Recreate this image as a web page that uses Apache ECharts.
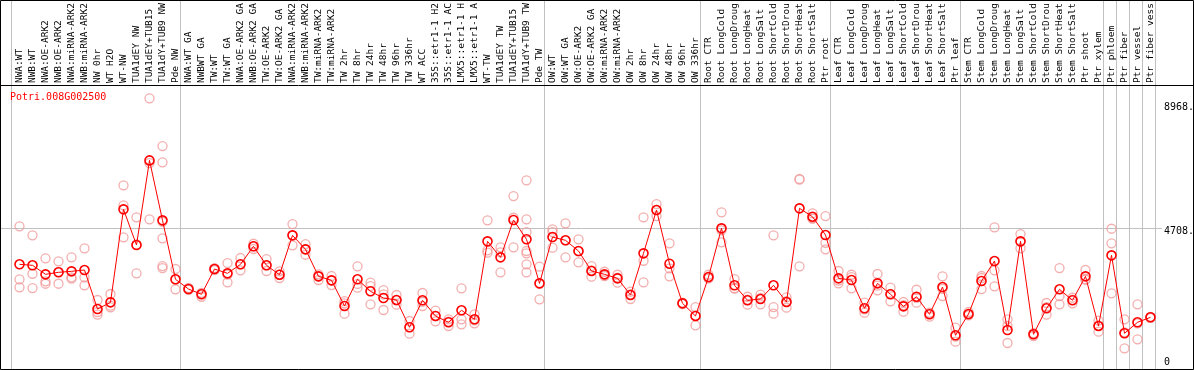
<!DOCTYPE html>
<html><head><meta charset="utf-8">
<script src="https://cdn.jsdelivr.net/npm/echarts@6/dist/echarts.min.js"></script>
<style>html,body{margin:0;padding:0;background:#fff}#c{width:1194px;height:370px}</style>
</head><body><div id="c"></div>
<script>
const geneName = 'Potri.008G002500';
const categories = [
 'NWA:WT','NWB:WT','NWA:OE-ARK2','NWB:OE-ARK2','NWA:miRNA-ARK2','NWB:miRNA-ARK2','NW 0hr','WT H2O','WT-NW','TUA1dEY NW','TUA1dEY+TUB15','TUA1dY+TUB9 NW','Pde NW',
 'NWA:WT GA','NWBWT GA','TW:WT','TW:WT GA','NWA:OE-ARK2 GA','NWB:OE-ARK2 GA','TW:OE-ARK2','TW:OE-ARK2 GA','NWA:miRNA-ARK2','NWB:miRNA-ARK2','TW:miRNA-ARK2','TW:miRNA-ARK2',
 'TW 2hr','TW 8hr','TW 24hr','TW 48hr','TW 96hr','TW 336hr','WT ACC','35S::etr1-1 H2','35S::etr1-1 AC','LMX5::etr1-1 H','LMX5::etr1-1 A','WT-TW','TUA1dEY TW','TUA1dEY+TUB15','TUA1dY+TUB9 TW','Pde TW',
 'OW:WT','OW:WT GA','OW:OE-ARK2','OW:OE-ARK2 GA','OW:miRNA-ARK2','OW:miRNA-ARK2','OW 2hr','OW 8hr','OW 24hr','OW 48hr','OW 96hr','OW 336hr',
 'Root CTR','Root LongCold','Root LongDroug','Root LongHeat','Root LongSalt','Root ShortCold','Root ShortDrou','Root ShortHeat','Root ShortSalt','Ptr root',
 'Leaf CTR','Leaf LongCold','Leaf LongDroug','Leaf LongHeat','Leaf LongSalt','Leaf ShortCold','Leaf ShortDrou','Leaf ShortHeat','Leaf ShortSalt','Ptr leaf',
 'Stem CTR','Stem LongCold','Stem LongDroug','Stem LongHeat','Stem LongSalt','Stem ShortCold','Stem ShortDrou','Stem ShortHeat','Stem ShortSalt','Ptr shoot','Ptr xylem',
 'Ptr phloem','Ptr fiber','Ptr vessel','Ptr fiber vess'
];
const meanValues = [
 3475,3441,3132,3201,3235,3280,1943,2172,5359,4137,7038,4983,2961,
 2628,2447,3314,3166,3475,4092,3441,3118,4468,3989,3063,2926,
 2046,2961,2550,2320,2252,1316,2241,1704,1487,1899,1590,4263,3714,4994,4332,2823,
 4410,4298,3931,3246,3132,2995,2423,3852,5336,3496,2138,1704,
 3040,4708,2756,2241,2286,2756,2183,5394,5106,4479,
 2995,2937,1967,2823,2447,2035,2364,1762,2697,1042,
 1771,2903,3588,1223,4263,1077,1967,2619,2241,3063,1361,
 3783,1111,1487,1659
];
const replicateValues = [
 [4777,2961,2687],[4468,3152,2662],[3680,2892,2810],[3578,3216,2810],[3714,3029,2982],[4023,3029,2756],
 [2252,1840,1748],[2458,2058,2001],[6182,5497,4401],[5086,4158,3166],[9164,6946,5017],
 [7528,6970,4935,4366,3416,3348],[3314,2953,2618],
 [2666,2608,2608],[2364,2482,2492],[3346,3278,3317],[3519,3120,2858],[3691,3475,3269],[4181,4092,4000],
 [3656,3441,3246],[3235,3118,3006],[4856,4468,4126],[4170,3989,3804],[3132,3063,2937],[3074,2926,2765],
 [2217,2139,1782],[3407,2804,2673],[2845,2731,2104],[2594,2447,1909],[2423,2242,2091],[1532,1320,1097],
 [2492,2186,2046],[1885,1704,1522],[1590,1510,1361],[2653,1590,1419],[1762,1555,1453],[4983,3955,3873],
 [4058,3884,3201],[5815,5072,4058],[6353,5017,4582,3931,3852,3475,3201],[3393,2802,2275],
 [4674,4582,4044],[4880,4299,3714],[4332,3917,3544],[3416,3270,3051],[3221,3101,3074],[3118,3022,2845],
 [2536,2446,2286],[5086,3598,2858],[5541,5337,5130],[4195,3338,3063],[2159,2142,2113],[2011,1715,1384],
 [3118,3006,2995],[5257,4639,4229],[2971,2657,2639],[2364,2268,2091],[2433,2320,2104],[4468,2011,1782],
 [2344,2217,1988],[6375,6402,3407],[5223,5052,5044],[5130,4215,3989],
 [3246,2919,2823],[3118,3035,2653],[2159,1929,1816],[3143,2744,2584],[2673,2462,2207],[2183,2074,1851],
 [2604,2327,2159],[1816,1793,1679],[3063,2637,2389],[1303,997,822],
 [1840,1744,1727],[3074,3006,2628],[4743,3269,2721],[1590,1361,778],[4513,4253,4023],[1113,1094,1018],
 [2149,2006,1748],[3348,2389,2104],[2330,2255,2138],[3280,2957,2953],[1542,1375,1165],
 [4695,4195,2481],[1590,1145,596],[2104,1452,905],[1676,1659,1642]
];
const groupStartIndex = [0,13,41,53,63,73,84,85,86,87];
const yTickValues = [0,4708,8968];
const yTickLabels = ['0','4708.','8968.'];
const gridLineValue = 4708;

const mono = 'DejaVu Sans Mono';
const chart = echarts.init(document.getElementById('c'), null, {renderer:'canvas'});
const repData = [];
replicateValues.forEach((arr,i)=>arr.forEach(v=>repData.push([i,v])));

chart.setOption({
  animation:false,
  backgroundColor:'#fff',
  title:{text:geneName,left:10,top:92,padding:0,
    textStyle:{color:'#ff0000',fontSize:10,fontWeight:'normal',fontFamily:mono}},
  grid:[
    {left:13,top:86,width:1144,height:283},
    {left:11,top:0,width:1144,height:369}
  ],
  xAxis:[
    {gridIndex:0,type:'category',data:categories,position:'top',boundaryGap:true,
     axisLine:{show:false},axisTick:{show:false},splitLine:{show:false},
     axisLabel:{interval:0,rotate:90,margin:3,fontSize:9.5,fontFamily:mono,color:'#000',hideOverlap:false}},
    {gridIndex:1,type:'category',data:categories,boundaryGap:true,
     axisLine:{show:false},axisTick:{show:false},axisLabel:{show:false},
     splitLine:{show:true,interval:(idx)=>groupStartIndex.includes(idx),
       lineStyle:{color:'#c0c0c0',width:1}}}
  ],
  yAxis:[
    {gridIndex:0,type:'value',min:-113,max:9585,show:false},
    {gridIndex:1,type:'value',show:false}
  ],
  series:[
    {type:'scatter',xAxisIndex:0,yAxisIndex:0,data:repData,symbol:'circle',symbolSize:9,silent:true,z:2,
     itemStyle:{color:'rgba(0,0,0,0)',borderColor:'#f09a9a',borderWidth:1.3}},
    {type:'line',xAxisIndex:0,yAxisIndex:0,data:meanValues,symbol:'circle',symbolSize:9,z:3,
     lineStyle:{color:'#ff0000',width:1},
     itemStyle:{color:'rgba(0,0,0,0)',borderColor:'#ff0000',borderWidth:1.6}}
  ]
});

const yPix = v => chart.convertToPixel({yAxisIndex:0}, v);
const gy = Math.round(yPix(gridLineValue)) + 0.5;
const graphics = [
  {type:'line',z:1,shape:{x1:1,y1:gy,x2:1162,y2:gy},style:{stroke:'#c0c0c0',lineWidth:1}},
  {type:'line',z:5,shape:{x1:0,y1:85.5,x2:1194,y2:85.5},style:{stroke:'#000',lineWidth:1}},
  {type:'rect',z:5,shape:{x:0.5,y:0.5,width:1193,height:369},style:{fill:null,stroke:'#000',lineWidth:1}}
];
yTickValues.forEach((v,i)=>{
  const ty = Math.min(yPix(v) - 2, 357);
  graphics.push({type:'text',z:5,x:1164,y:ty,
    style:{text:yTickLabels[i],fill:'#000',font:'10px "DejaVu Sans Mono"',textAlign:'left',textVerticalAlign:'top'}});
});
chart.setOption({graphic:graphics});
</script>
</body></html>
